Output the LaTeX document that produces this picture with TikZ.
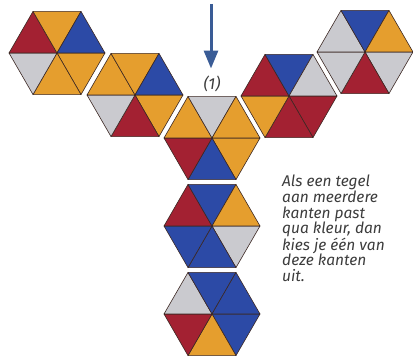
\documentclass[tikz,border=0pt]{standalone}
\usepackage{fontspec}
\setmainfont{Fira Sans}
\usetikzlibrary{arrows.meta}
\definecolor{tred}{RGB}{163,33,50}
\definecolor{tyel}{RGB}{229,158,46}
\definecolor{tblu}{RGB}{44,74,166}
\definecolor{tgry}{RGB}{202,202,207}
\definecolor{edge}{RGB}{60,40,35}
\definecolor{arrowblue}{RGB}{58,92,150}
\definecolor{txtgray}{RGB}{60,60,60}
\tikzset{
  tri/.style={draw=edge, line width=0.6pt, line join=round},
  pointer/.style={draw=arrowblue, line width=3pt, -{Triangle[length=18pt,width=14pt]}},
  caption/.style={font=\fontsize{15.5}{15.6}\selectfont\itshape, text=txtgray, align=left, inner sep=0pt}
}
% #1 name, #2 x, #3 y, #4 colours: LR, Bo, LL, UL, T, UR
\newcommand\hextile[4]{%
  \coordinate (#1) at (#2,#3);
  \foreach \c [count=\i from 0] in {#4} {
    \filldraw[tri, fill=\c] (#1) -- ++(\i*60:48) -- ++(\i*60+120:48) -- cycle;
  }
}
\begin{document}
\begin{tikzpicture}[x=1pt,y=-1pt]
\useasboundingbox (0,0) rectangle (413,358);
\hextile{A}{57}{53}{tyel,tyel,tgry,tred,tyel,tblu}
\hextile{B}{135}{95}{tyel,tred,tgry,tyel,tyel,tblu}
\hextile{C}{212}{138}{tyel,tblu,tred,tyel,tgry,tyel}
\hextile{D}{289}{96}{tred,tred,tyel,tred,tblu,tgry}
\hextile{E}{365}{52}{tgry,tred,tgry,tgry,tblu,tyel}
\hextile{F}{212}{226}{tgry,tblu,tblu,tred,tblu,tyel}
\hextile{G}{212}{314}{tblu,tyel,tred,tgry,tblu,tblu}
\node[font=\fontsize{16}{18}\selectfont\itshape, text=txtgray] (lab) at (212,84) {(1)};
\coordinate (start) at (211,4);
\draw[pointer] (start) -- ([yshift=4pt]lab.north -| start);
\node[caption, anchor=north west] (cap) at (282,175) {Als een tegel\\aan meerdere\\kanten past\\qua kleur, dan\\kies je één van\\deze kanten\\uit.};
\end{tikzpicture}
\end{document}
